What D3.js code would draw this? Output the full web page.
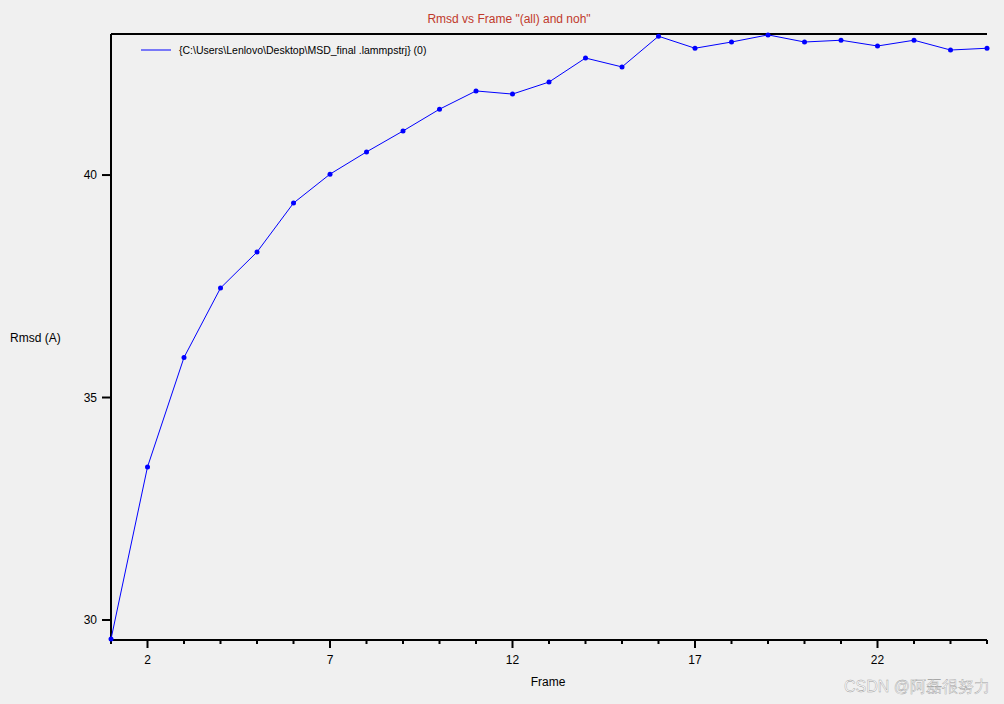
<!DOCTYPE html>
<html><head><meta charset="utf-8">
<script src="https://cdn.jsdelivr.net/npm/d3@7"></script>
<style>body{margin:0;background:#f0f0f0;font-family:Arial,"Liberation Sans",sans-serif}</style>
</head><body><svg id="c" width="1004" height="704"></svg>
<script>
// data
const frames = d3.range(1, 26);
const rmsd = [29.57, 33.44, 35.9, 37.46, 38.27, 39.37, 40.02, 40.52, 40.99, 41.48, 41.89, 41.82, 42.09, 42.63, 42.43,
  43.12, 42.85, 42.99, 43.15, 42.99, 43.03, 42.9, 43.03, 42.81, 42.85];
const xTicks = [2, 7, 12, 17, 22];
const yTicks = [30, 35, 40];

const svg = d3.select("#c");
const x = d3.scaleLinear().domain([1, 25]).range([111, 987]);
const y = d3.scaleLinear().domain([29.55, 43.17]).range([640, 34]);

// box
svg.append("path").attr("d", `M${x(1)},${y(43.17)}V${y(29.55)}H${x(25)}`).attr("fill", "none").attr("stroke", "#000").attr("stroke-width", 2);
svg.append("line").attr("x1", x(1)).attr("x2", x(25)).attr("y1", 34).attr("y2", 34).attr("stroke", "#000").attr("stroke-width", 2);

// x ticks
svg.selectAll(".xm").data(frames).join("line")
  .attr("x1", d => x(d)).attr("x2", d => x(d)).attr("y1", 640)
  .attr("y2", d => xTicks.includes(d) ? 648 : 644).attr("stroke", "#000").attr("stroke-width", 2);
svg.selectAll(".xl").data(xTicks).join("text")
  .attr("x", d => x(d)).attr("y", 664).attr("text-anchor", "middle").attr("font-size", 12).text(d => d);

// y ticks
svg.selectAll(".ym").data(yTicks).join("line")
  .attr("x1", 102).attr("x2", 111).attr("y1", d => y(d)).attr("y2", d => y(d)).attr("stroke", "#000").attr("stroke-width", 2);
svg.selectAll(".yl").data(yTicks).join("text")
  .attr("x", 97).attr("y", d => y(d) + 4).attr("text-anchor", "end").attr("font-size", 12).text(d => d);

// line + points
const line = d3.line().x((d, i) => x(frames[i])).y(d => y(d));
svg.append("path").datum(rmsd).attr("d", line).attr("fill", "none").attr("stroke", "#0000ff").attr("stroke-width", 1);
svg.selectAll(".pt").data(rmsd).join("circle")
  .attr("cx", (d, i) => x(frames[i])).attr("cy", d => y(d)).attr("r", 2.5).attr("fill", "#0000ff");

// labels
svg.append("text").attr("x", 509).attr("y", 23).attr("text-anchor", "middle").attr("font-size", 12).attr("fill", "#c0392b")
  .text('Rmsd vs Frame "(all) and noh"');
svg.append("text").attr("x", 548).attr("y", 686).attr("text-anchor", "middle").attr("font-size", 12).text("Frame");
svg.append("text").attr("x", 10).attr("y", 342).attr("font-size", 12).text("Rmsd (A)");

// legend
svg.append("line").attr("x1", 141).attr("x2", 171).attr("y1", 50).attr("y2", 50).attr("stroke", "#0000ff");
svg.append("text").attr("x", 179).attr("y", 54).attr("font-size", 10.5).text("{C:\\Users\\Lenlovo\\Desktop\\MSD_final .lammpstrj} (0)");

// watermark
svg.append("text").attr("x", 990).attr("y", 692).attr("text-anchor", "end").attr("font-size", 16).attr("fill", "#ffffff")
  .attr("stroke", "#999").attr("stroke-width", 0.4).text("CSDN @阿磊很努力");
</script></body></html>
